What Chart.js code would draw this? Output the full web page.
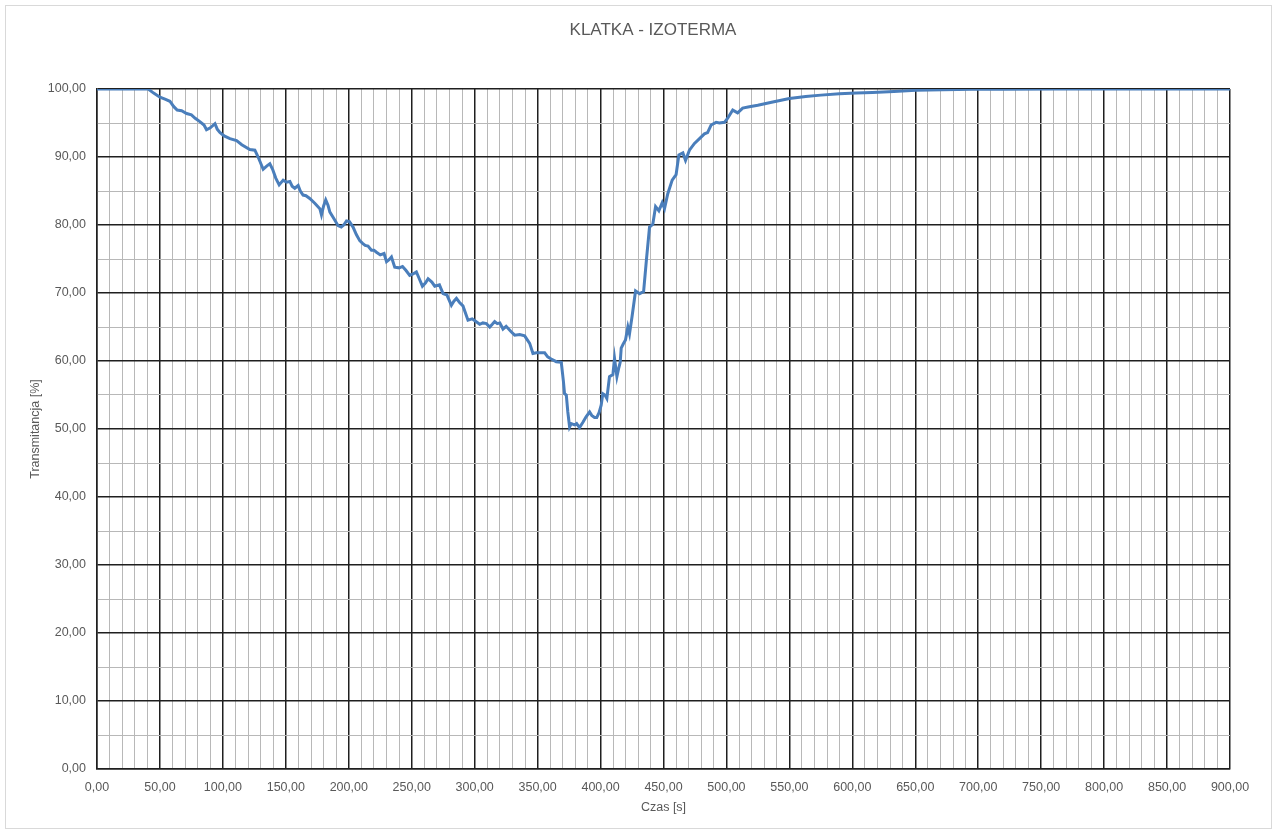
<!DOCTYPE html>
<html>
<head>
<meta charset="utf-8">
<script src="https://cdn.jsdelivr.net/npm/chart.js@4/dist/chart.umd.min.js"></script>
<style>
  html, body { margin: 0; padding: 0; background: #ffffff; }
  canvas { display: block; }
</style>
</head>
<body>
<canvas id="c" width="1277" height="834"></canvas>
<script>
const chartTitle = 'KLATKA - IZOTERMA';
const xAxisTitle = 'Czas [s]';
const yAxisTitle = 'Transmitancja [%]';

// time [s]
const timeS = [
  0, 20, 40.7, 45, 50, 54, 57.9, 61, 63.7, 67.2,
  71.2, 75, 78, 81.7, 85, 87, 90, 93.7, 95.5, 97.6,
  101, 105.6, 110.9, 115, 121.4, 125.4, 128, 132, 135, 137.3,
  139.5, 142, 144.7, 147.9, 150.5, 153.2, 155, 157.1, 159.8, 161.5,
  163.7, 166, 169, 173, 177, 178.3, 180, 181.7, 183.5, 185,
  188, 191.5, 194, 196, 198.2, 200.5, 203.4, 206, 208.7, 211,
  213, 215.3, 218, 220, 222, 225, 228, 230, 232, 233.9,
  236.5, 240, 242.7, 245.5, 248.4, 251, 253.7, 256, 258.5, 261,
  263, 266, 268.3, 272, 274.9, 278, 281.5, 283.5, 285.5, 288,
  290.7, 294.7, 298, 301, 304, 306.5, 309.3, 312, 314, 315.9,
  318, 320, 322.5, 325, 329, 331.8, 335.8, 339.7, 343.7, 346.3,
  349, 351.6, 355.6, 358, 360.8, 364.8, 368.8, 370.5, 371.4, 372.8,
  374, 375.4, 376.7, 379.4, 381, 383.3, 386, 388.5, 391.3, 393,
  395.2, 397, 398.8, 400.5, 401.8, 403.5, 405, 407.1, 409.8, 411.1,
  413, 414.5, 415.6, 416.4, 418, 419.8, 421.7, 423, 425, 427.8,
  431, 434.2, 436.5, 438.9, 441.5, 443.7, 446.3, 449, 450.8, 453.4,
  456.9, 460, 462.2, 465.4, 467.5, 470.6, 474.6, 478.6, 482.5, 485,
  487.8, 491.8, 494.4, 498.4, 501, 505, 508.9, 512.9, 518.2, 524.9,
  536.8, 550, 563, 575, 589.7, 603, 616, 633, 650.5, 672,
  695, 720, 760, 800, 850, 900
];

// transmittance [%]
const transmittance = [
  100, 100, 100, 99.4, 98.8, 98.5, 98.2, 97.4, 96.9, 96.8,
  96.4, 96.2, 95.7, 95.2, 94.7, 94.0, 94.3, 94.9, 94.1, 93.6,
  93.1, 92.7, 92.4, 91.8, 91.1, 91.0, 90.0, 88.2, 88.7, 89.0,
  88.2, 86.9, 85.9, 86.6, 86.3, 86.4, 85.7, 85.4, 85.8, 85.0,
  84.4, 84.3, 83.9, 83.2, 82.4, 81.5, 82.8, 83.7, 82.9, 81.9,
  81.0, 79.9, 79.7, 80.0, 80.6, 80.5, 79.7, 78.6, 77.7, 77.3,
  77.0, 76.9, 76.3, 76.3, 76.0, 75.6, 75.8, 74.6, 74.9, 75.3,
  73.8, 73.7, 73.9, 73.3, 72.6, 72.8, 73.1, 72.1, 71.0, 71.5,
  72.1, 71.6, 71.0, 71.2, 69.9, 69.7, 68.2, 68.8, 69.2, 68.6,
  68.1, 66.0, 66.2, 65.8, 65.4, 65.6, 65.5, 65.0, 65.4, 65.8,
  65.5, 65.6, 64.7, 65.1, 64.3, 63.8, 63.9, 63.7, 62.6, 61.1,
  61.2, 61.2, 61.2, 60.6, 60.3, 59.9, 59.8, 57.0, 55.2, 55.0,
  52.5, 50.3, 50.8, 50.6, 50.8, 50.2, 51.0, 51.8, 52.5, 52.0,
  51.7, 51.7, 52.4, 53.5, 55.2, 55.0, 54.5, 57.7, 58.0, 60.4,
  57.7, 59.0, 59.8, 61.9, 62.5, 63.1, 65.0, 64.0, 66.5, 70.3,
  69.9, 70.2, 75.0, 79.7, 80.1, 82.7, 82.1, 83.3, 82.4, 84.6,
  86.6, 87.4, 90.3, 90.6, 89.5, 91.0, 92.0, 92.7, 93.4, 93.6,
  94.7, 95.1, 95.0, 95.1, 95.7, 96.9, 96.5, 97.2, 97.4, 97.6,
  98.1, 98.6, 98.9, 99.1, 99.3, 99.4, 99.5, 99.65, 99.8, 99.88,
  99.95, 99.98, 100, 100, 100, 100
];

const xTickStep = 10, xLabelEvery = 50;
const yTickStep = 5, yLabelEvery = 10;

const points = timeS.map((t, i) => ({ x: t, y: transmittance[i] }));

const MAJOR = '#1f1f1f';
const MINOR = '#b8b8b8';
const TEXT = '#595959';
const FONT = "'Liberation Sans', Arial, sans-serif";

function fmt(v) { return v.toFixed(2).replace('.', ','); }
function isMult(v, m) { return Math.abs(v / m - Math.round(v / m)) < 1e-6; }

const decor = {
  id: 'decor',
  afterDraw(chart) {
    const ctx = chart.ctx;
    ctx.save();
    ctx.strokeStyle = '#d9d9d9';
    ctx.lineWidth = 1;
    ctx.strokeRect(5.5, 5.5, 1266, 823);
    ctx.fillStyle = TEXT;
    ctx.font = "17px " + FONT;
    ctx.textAlign = 'center';
    ctx.textBaseline = 'middle';
    ctx.fillText(chartTitle, 653, 30);
    ctx.restore();
  }
};

new Chart(document.getElementById('c'), {
  type: 'scatter',
  data: {
    datasets: [{
      data: points,
      showLine: true,
      borderColor: '#4a7ebb',
      backgroundColor: '#4a7ebb',
      borderWidth: 3,
      pointRadius: 0,
      tension: 0,
      fill: false
    }]
  },
  options: {
    responsive: false,
    animation: false,
    layout: { padding: { left: 24, right: 47, top: 89, bottom: 15 } },
    plugins: {
      legend: { display: false },
      tooltip: { enabled: false },
      title: { display: false }
    },
    scales: {
      x: {
        type: 'linear',
        min: 0, max: 900,
        afterFit(s) { s.height = 50; },
        ticks: {
          stepSize: xTickStep,
          autoSkip: false,
          maxRotation: 0,
          padding: 11,
          color: TEXT,
          font: { size: 12.5, family: FONT },
          callback: v => isMult(v, xLabelEvery) ? fmt(v) : ''
        },
        grid: {
          drawTicks: false,
          color: c => (c.tick && isMult(c.tick.value, xLabelEvery)) ? MAJOR : MINOR,
          lineWidth: c => (c.tick && isMult(c.tick.value, xLabelEvery)) ? 1.5 : 1
        },
        border: { color: MAJOR, width: 1.5 },
        title: { display: true, text: xAxisTitle, color: TEXT, font: { size: 12.5, family: FONT } }
      },
      y: {
        min: 0, max: 100,
        afterFit(s) { s.width = 73; },
        ticks: {
          stepSize: yTickStep,
          autoSkip: false,
          padding: 11,
          color: TEXT,
          font: { size: 12.5, family: FONT },
          callback: v => isMult(v, yLabelEvery) ? fmt(v) : ''
        },
        grid: {
          drawTicks: false,
          color: c => (c.tick && isMult(c.tick.value, yLabelEvery)) ? MAJOR : MINOR,
          lineWidth: c => (c.tick && isMult(c.tick.value, yLabelEvery)) ? 1.5 : 1
        },
        border: { color: MAJOR, width: 1.5 },
        title: { display: true, text: yAxisTitle, color: TEXT, font: { size: 12.5, family: FONT } }
      }
    }
  },
  plugins: [decor]
});
</script>
</body>
</html>
